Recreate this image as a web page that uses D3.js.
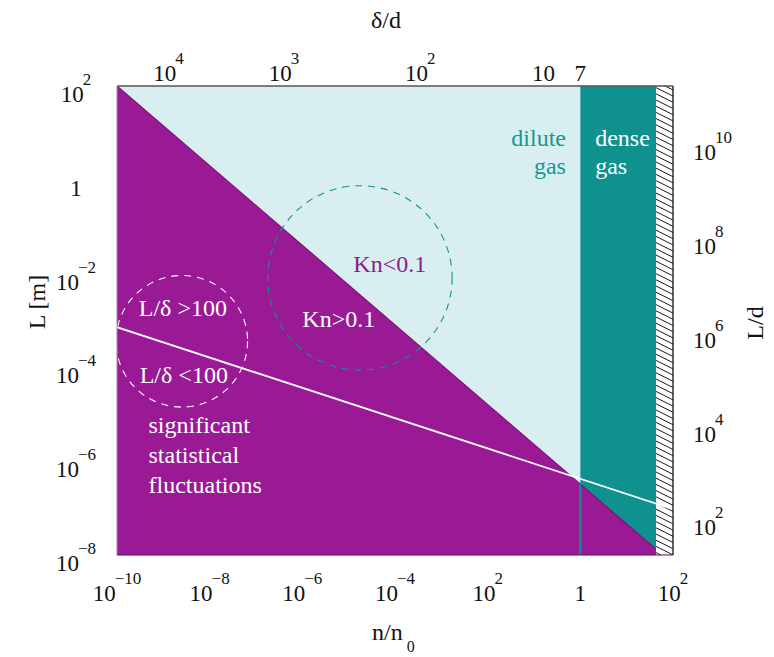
<!DOCTYPE html>
<html>
<head>
<meta charset="utf-8">
<script src="https://cdn.jsdelivr.net/npm/d3@7"></script>
<style>
  body { margin: 0; background: #fff; }
  text { font-family: "Liberation Serif", "Times New Roman", serif; }
</style>
</head>
<body>
<svg id="chart" width="774" height="657"></svg>
<script>
// Flow regimes of a gas: density ratio n/n0 against characteristic length L.
const nDomain = [1e-10, 1e2];
const LDomain = [1e-8, 1e2];
const molDiameter = 5.75e-10;            // d [m], links the L and L/d axes

// Tick values and their printed labels ([mantissa, exponent])
const bottomTicks  = [1e-10, 1e-8, 1e-6, 1e-4, 1e-2, 1, 1e2];
const bottomLabels = [["10", "−10"], ["10", "−8"], ["10", "−6"], ["10", "−4"], ["10", "2"], ["1", ""], ["10", "2"]];
const leftTicks    = [1e2, 1, 1e-2, 1e-4, 1e-6, 1e-8];
const leftLabels   = [["10", "2"], ["1", ""], ["10", "−2"], ["10", "−4"], ["10", "−6"], ["10", "−8"]];
const rightTicks   = [1e10, 1e8, 1e6, 1e4, 1e2];
const rightLabels  = [["10", "10"], ["10", "8"], ["10", "6"], ["10", "4"], ["10", "2"]];
const topTickAt    = [1.3e-9, 4e-7, 3.5e-4, 0.16, 1];     // n/n0 where each δ/d label sits
const topLabels    = [["10", "4"], ["10", "3"], ["10", "2"], ["10", ""], ["7", ""]];

// Regime boundaries (n/n0, L)
const denseGasRange = [1, 43];
const solidRange    = [43, 1e2];
const knBoundary    = [[1e-10, 1e2], [60, 1e-8]];          // Kn = 0.1
const ldBoundary    = [[1e-10, 7.2e-4], [1e2, 9.5e-8]];    // L/δ = 100

// Dashed marker circles: centre (n/n0, L) and radius in decades of n
const markerCircles = [
  { n: 2.5e-9, L: 3.6e-4, rDec: 1.42, color: "#ffffff" },
  { n: 1.75e-5, L: 8.1e-3, rDec: 1.99, color: "#13928f" }
];

const plot = { left: 117, right: 673, top: 86, bottom: 555 };

const svg = d3.select("#chart");
const x = d3.scaleLog().domain(nDomain).range([plot.left, plot.right]);
const y = d3.scaleLog().domain(LDomain).range([plot.bottom, plot.top]);
const yR = d3.scaleLog().domain(LDomain.map(v => v / molDiameter)).range([plot.bottom, plot.top]);

const C = {
  dilute: "#d8eef0",
  dense: "#0f918f",
  purple: "#9a1a96",
  purpleEdge: "#7d1279",
  tealText: "#159894",
  knText: "#8e1a8c"
};

// Kn boundary evaluated at a given n/n0 (straight in log-log)
function knAt(n) {
  const [a, b] = knBoundary;
  const t = (Math.log10(n) - Math.log10(a[0])) / (Math.log10(b[0]) - Math.log10(a[0]));
  return Math.pow(10, Math.log10(a[1]) + t * (Math.log10(b[1]) - Math.log10(a[1])));
}

const defs = svg.append("defs");
defs.append("clipPath").attr("id", "plotClip")
  .append("rect")
  .attr("x", plot.left).attr("y", plot.top)
  .attr("width", plot.right - plot.left).attr("height", plot.bottom - plot.top);

const g = svg.append("g").attr("clip-path", "url(#plotClip)");

// dilute gas background
g.append("rect")
  .attr("x", x(nDomain[0])).attr("y", y(LDomain[1]))
  .attr("width", x(nDomain[1]) - x(nDomain[0]))
  .attr("height", y(LDomain[0]) - y(LDomain[1]))
  .attr("fill", C.dilute);

// dense gas strip
g.append("rect")
  .attr("x", x(denseGasRange[0])).attr("y", y(LDomain[1]))
  .attr("width", x(denseGasRange[1]) - x(denseGasRange[0]))
  .attr("height", y(LDomain[0]) - y(LDomain[1]))
  .attr("fill", C.dense);

// Kn > 0.1 region
const line = d3.line().x(d => x(d[0])).y(d => y(d[1]));
const knPoly = knBoundary.concat([[nDomain[0], LDomain[0]]]);
g.append("path").attr("d", line(knPoly) + "Z").attr("fill", C.purple);
g.append("path").attr("d", line(knBoundary))
  .attr("fill", "none").attr("stroke", C.purpleEdge).attr("stroke-width", 1.2);

// n/n0 = 1 divider continued below the Kn line
g.append("line")
  .attr("x1", x(denseGasRange[0])).attr("x2", x(denseGasRange[0]))
  .attr("y1", y(knAt(denseGasRange[0]))).attr("y2", y(LDomain[0]))
  .attr("stroke", C.dense).attr("stroke-width", 1.8);

// hatched strip (condensed phase)
const hx0 = x(solidRange[0]), hx1 = x(solidRange[1]);
g.append("rect")
  .attr("x", hx0).attr("y", plot.top)
  .attr("width", hx1 - hx0).attr("height", plot.bottom - plot.top)
  .attr("fill", "#fff");
defs.append("clipPath").attr("id", "hatchClip")
  .append("rect").attr("x", hx0).attr("y", plot.top)
  .attr("width", hx1 - hx0).attr("height", plot.bottom - plot.top);
const hatch = g.append("g").attr("clip-path", "url(#hatchClip)");
const hw = hx1 - hx0;
hatch.selectAll("line").data(d3.range(plot.top - hw, plot.bottom + 2, 6.2)).join("line")
  .attr("x1", hx0).attr("y1", d => d)
  .attr("x2", hx1).attr("y2", d => d + hw * 0.5)
  .attr("stroke", "#000").attr("stroke-width", 0.9);

// L/δ = 100 line
g.append("path").attr("d", line(ldBoundary))
  .attr("fill", "none").attr("stroke", "#fff").attr("stroke-width", 1.8);

// dashed marker circles
g.selectAll("circle.marker").data(markerCircles).join("circle")
  .attr("class", "marker")
  .attr("cx", d => x(d.n)).attr("cy", d => y(d.L))
  .attr("r", d => x(d.n * Math.pow(10, d.rDec)) - x(d.n))
  .attr("fill", "none").attr("stroke", d => d.color)
  .attr("stroke-width", 1.1).attr("stroke-dasharray", "7,6");

// frame
svg.append("line").attr("x1", plot.left).attr("x2", plot.right).attr("y1", plot.top).attr("y2", plot.top)
  .attr("stroke", "#555").attr("stroke-width", 1.4);
svg.append("line").attr("x1", plot.left).attr("x2", plot.left).attr("y1", plot.top).attr("y2", plot.bottom)
  .attr("stroke", "#9a8aa0").attr("stroke-width", 1);
svg.append("line").attr("x1", plot.right).attr("x2", plot.right).attr("y1", plot.top).attr("y2", plot.bottom)
  .attr("stroke", "#222").attr("stroke-width", 1.4);
svg.append("line").attr("x1", plot.left).attr("x2", plot.right).attr("y1", plot.bottom).attr("y2", plot.bottom)
  .attr("stroke", "#5a1058").attr("stroke-width", 1.2);

// label with optional superscript
function sciLabel(sel, lab) {
  sel.append("tspan").text(lab[0]);
  if (lab[1]) sel.append("tspan").attr("dx", -1).attr("dy", -17).attr("font-size", 17).text(lab[1]);
}

const tickFont = 23;
svg.append("g").selectAll("text").data(bottomTicks).join("text")
  .attr("x", d => x(d)).attr("y", 601)
  .attr("text-anchor", "middle").attr("font-size", tickFont).attr("fill", "#111")
  .each(function (d, i) { sciLabel(d3.select(this), bottomLabels[i]); });

svg.append("g").selectAll("text").data(leftTicks).join("text")
  .attr("x", 76).attr("y", d => y(d) + 16)
  .attr("text-anchor", "middle").attr("font-size", tickFont).attr("fill", "#111")
  .each(function (d, i) { sciLabel(d3.select(this), leftLabels[i]); });

svg.append("g").selectAll("text").data(rightTicks).join("text")
  .attr("x", 693).attr("y", d => yR(d) + 16)
  .attr("text-anchor", "start").attr("font-size", tickFont).attr("fill", "#111")
  .each(function (d, i) { sciLabel(d3.select(this), rightLabels[i]); });

svg.append("g").selectAll("text").data(topTickAt).join("text")
  .attr("x", d => x(d)).attr("y", 81)
  .attr("text-anchor", "middle").attr("font-size", tickFont).attr("fill", "#111")
  .each(function (d, i) { sciLabel(d3.select(this), topLabels[i]); });

// axis titles
svg.append("text").attr("x", 386).attr("y", 28).attr("text-anchor", "middle")
  .attr("font-size", 24).attr("fill", "#111").text("δ/d");
const nt = svg.append("text").attr("x", 372).attr("y", 640).attr("font-size", 24).attr("fill", "#111");
nt.append("tspan").text("n/n");
nt.append("tspan").attr("dx", 4).attr("dy", 12).attr("font-size", 16).text("0");
svg.append("text").attr("transform", "translate(45,302) rotate(-90)").attr("text-anchor", "middle")
  .attr("font-size", 24).attr("fill", "#111").text("L [m]");
svg.append("text").attr("transform", "translate(763,323) rotate(-90)").attr("text-anchor", "middle")
  .attr("font-size", 24).attr("fill", "#111").text("L/d");

// region annotations, anchored in data coordinates
const notes = [
  { lines: ["dilute", "gas"], n: 10 ** -0.31, L: [10 ** 0.72, 10 ** 0.12], anchor: "end", color: C.tealText },
  { lines: ["dense", "gas"], n: 10 ** 0.32, L: [10 ** 0.72, 10 ** 0.12], anchor: "start", color: "#fff" },
  { lines: ["Kn<0.1"], n: 10 ** -4.9, L: [10 ** -1.97], anchor: "start", color: C.knText },
  { lines: ["Kn>0.1"], n: 10 ** -6.0, L: [10 ** -3.14], anchor: "start", color: "#fff" },
  { lines: ["L/δ >100"], n: 10 ** -9.53, L: [10 ** -2.9], anchor: "start", color: "#fff" },
  { lines: ["L/δ <100"], n: 10 ** -9.51, L: [10 ** -4.33], anchor: "start", color: "#fff" },
  { lines: ["significant", "statistical", "fluctuations"], n: 10 ** -9.32,
    L: [10 ** -5.4, 10 ** -6.04, 10 ** -6.68], anchor: "start", color: "#fff" }
];
notes.forEach(nd => {
  nd.lines.forEach((t, i) => {
    svg.append("text")
      .attr("x", x(nd.n)).attr("y", y(nd.L[i]))
      .attr("text-anchor", nd.anchor).attr("font-size", 24).attr("fill", nd.color)
      .text(t);
  });
});
</script>
</body>
</html>
